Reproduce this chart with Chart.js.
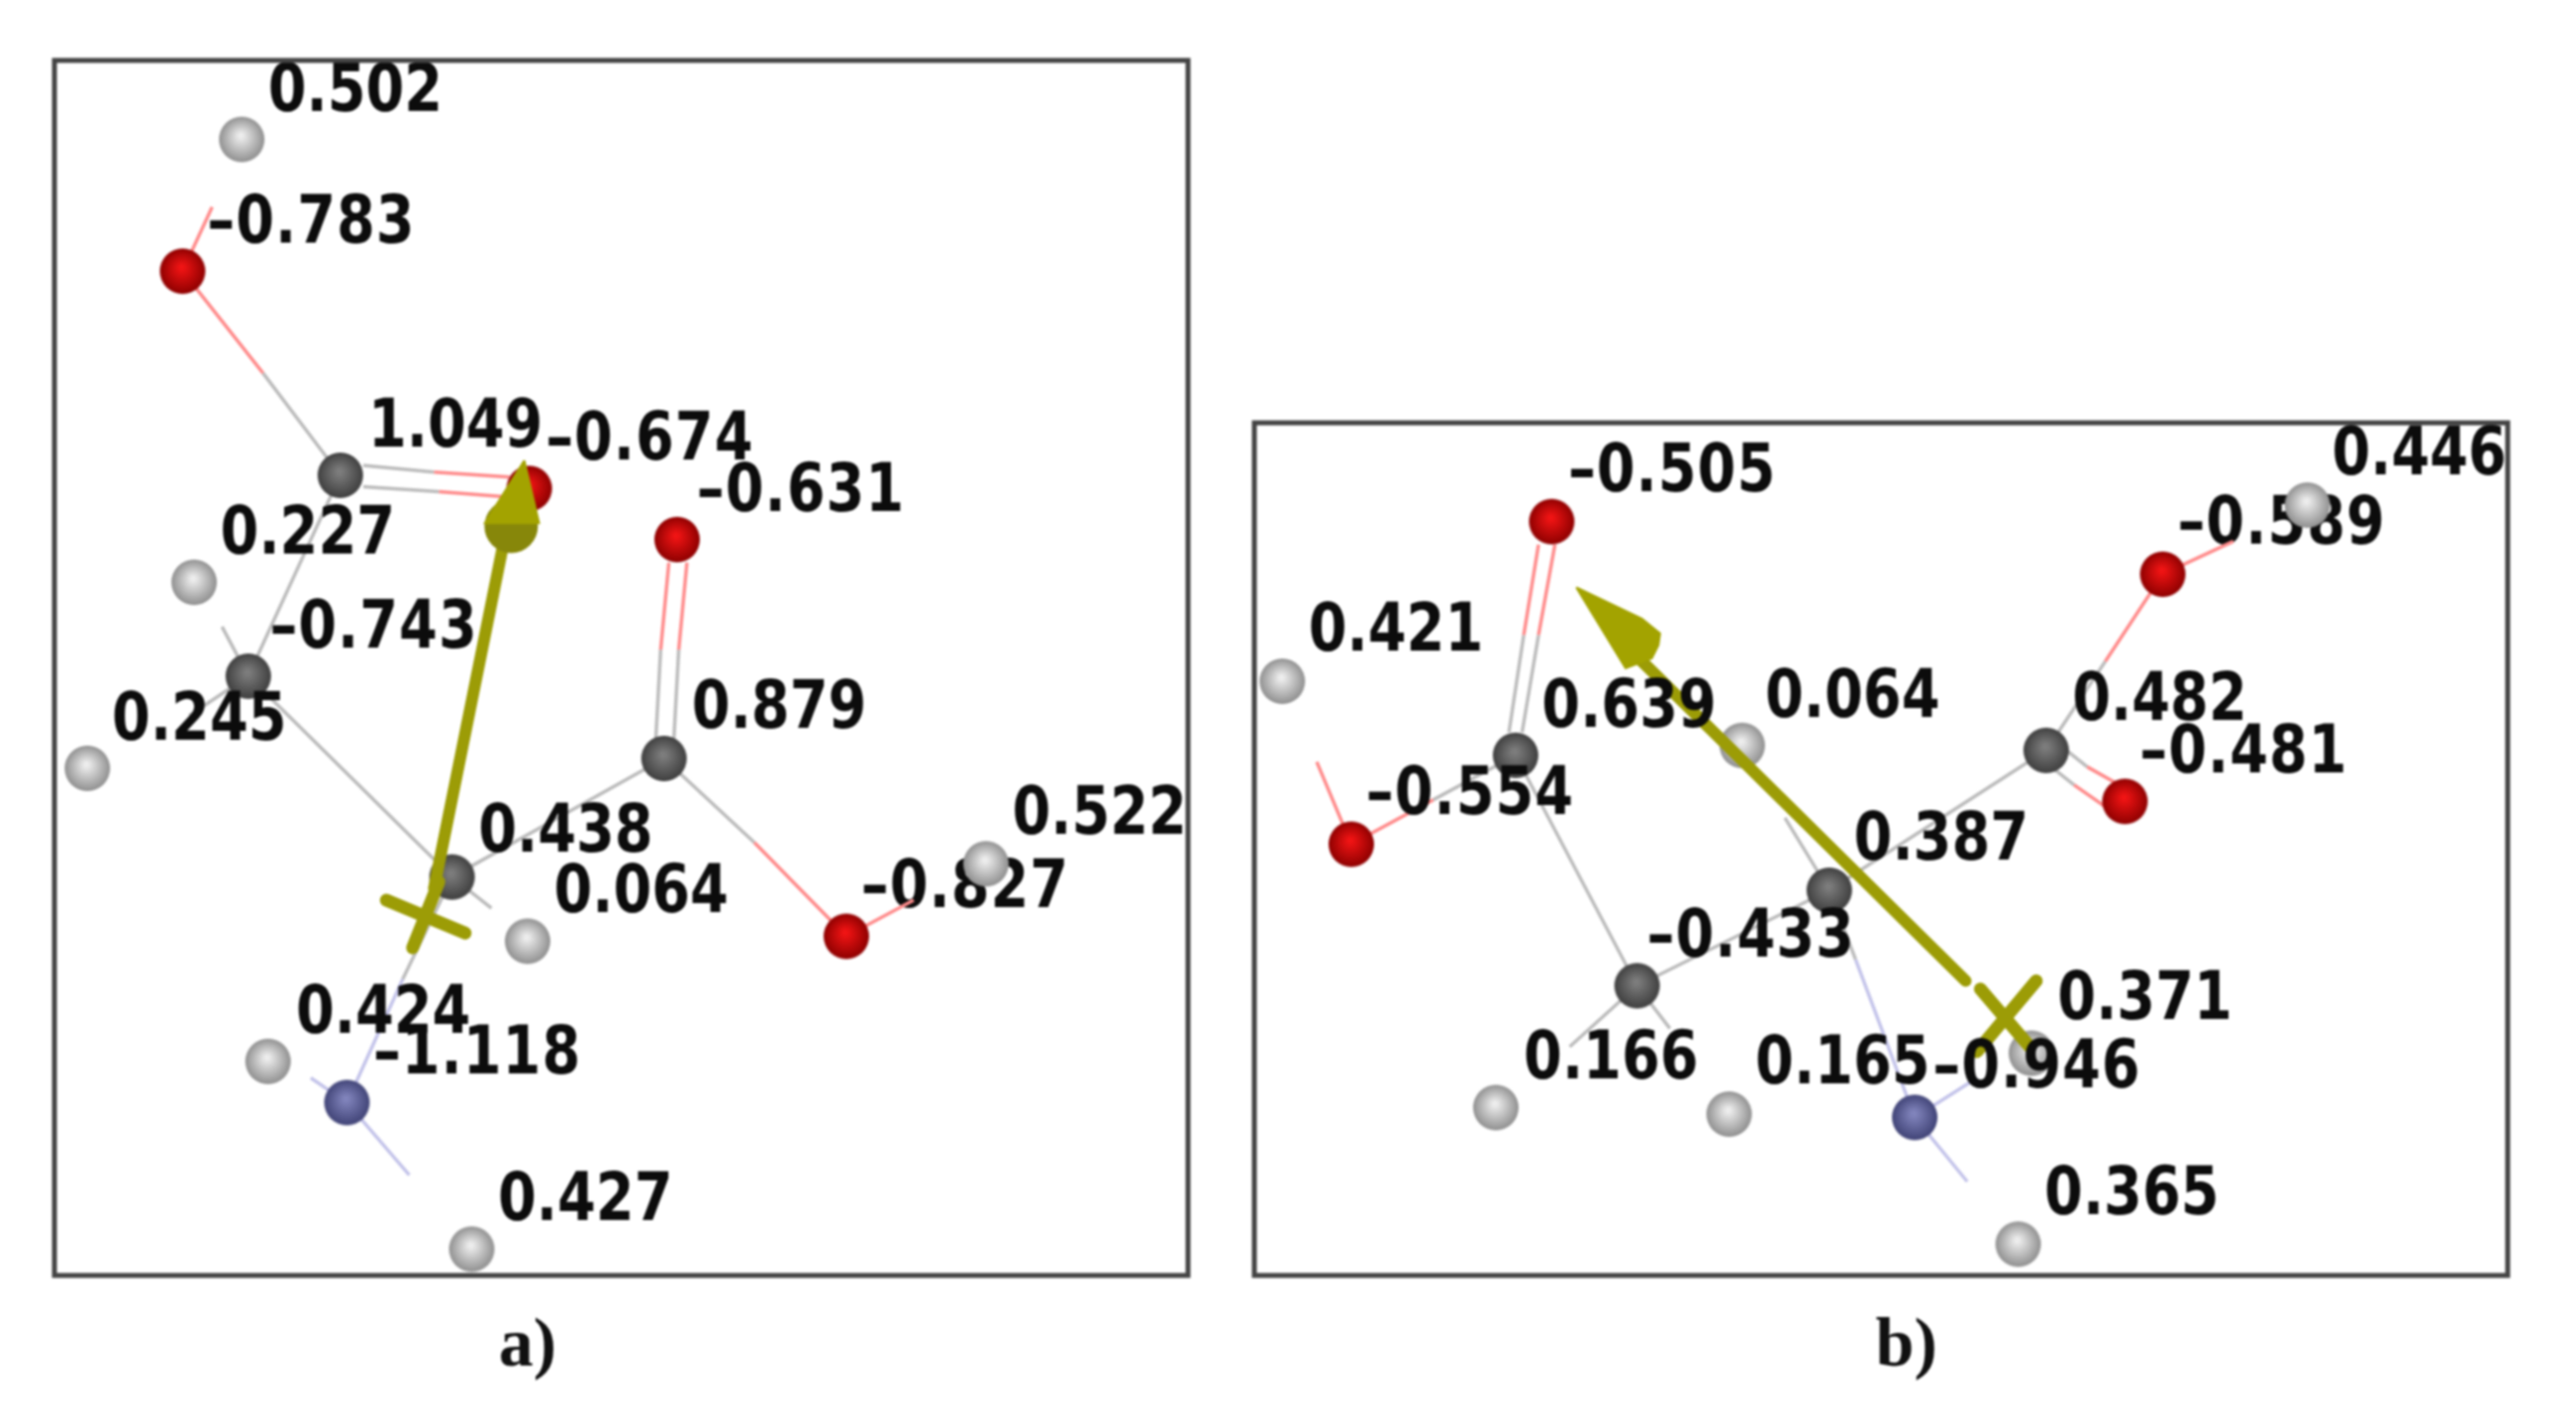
<!DOCTYPE html>
<html>
<head>
<meta charset="utf-8">
<title>Partial charges and dipole moment</title>
<script src="https://cdn.jsdelivr.net/npm/chart.js@4"></script>
<style>
  html, body { margin: 0; padding: 0; background: #fff; width: 2602px; height: 1435px; overflow: hidden; }
  canvas { position: absolute; top: 0; filter: blur(1.3px); }
  #panelA { left: 0; }
  #panelB { left: 1240px; }
</style>
</head>
<body>
<canvas id="panelA" width="1240" height="1435"></canvas>
<canvas id="panelB" width="1362" height="1435"></canvas>
<script>
// panel a) atoms
const aElem = ['H','O','C','O','O','H','C','H','C','C','H','O','H','H','N','H'];
const aX = [147,111,207,322,412,118,151,53,404,275,600,515,321,163,211,287];
const aY = [85,165,289,297,328,354,411,467,461,533,525,569,572,645,670,759];
const aCharge = [0.502,-0.783,1.049,-0.674,-0.631,0.227,-0.743,0.245,0.879,0.438,0.522,-0.827,0.064,0.424,-1.118,0.427];
const aLabelX = [163,126,224,332,424,134,164,68,421,291,616,524,337,180,227,303];
const aLabelY = [57,137,261,269,300,326,383,439,432,507,496,541,544,617,642,731];
const aBehind = [-0.827];  // this label sits under the H atom

// panel a) bonds, [x1,y1,x2,y2]
const aGrayBonds = [[160,227,207,289],[221,283,264,287],[221,296,267,299],[207,289,156,400],[135,381,151,411],[151,411,115,435],[151,411,275,533],[275,533,404,461],[402,395,399,450],[413,395,410,450],[404,461,459,512],[275,533,299,552],[275,533,245,595]];
const aRedBonds = [[111,165,129,126],[111,165,160,227],[264,287,310,290],[267,299,306,302],[407,342,402,395],[418,342,413,395],[459,512,515,569],[515,569,556,547]];
const aBlueBonds = [[245,595,211,670],[211,670,189,655],[211,670,249,714]];

// panel a) dipole arrow
const aShaft = [[264,540,308,322]];
const aCross = [[235,547,283,567],[267,536,251,576]];
const aHead = [[319,280],[328,318],[295,318]];
const aHeadBase = [[311,320]];

// panel b) atoms
const bElem = ['O','H','O','H','C','H','C','O','O','C','C','H','H','H','N','H'];
const bX = [944,1404,1316,780,922,1060,1245,1293,822,1113,996,1236,910,1052,1165,1228];
const bY = [317,307,349,414,459,453,456,487,513,541,599,640,673,677,679,756];
const bCharge = [-0.505,0.446,-0.589,0.421,0.639,0.064,0.482,-0.481,-0.554,0.387,-0.433,0.371,0.166,0.165,-0.946,0.365];
const bLabelX = [954,1419,1325,796,938,1074,1261,1302,831,1128,1002,1252,927,1068,1176,1244];
const bLabelY = [288,278,320,385,431,425,427,459,484,512,571,609,645,648,650,727];
const bBehind = [-0.589];

// panel b) bonds
const bGrayBonds = [[927,386,918,445],[936,386,926,445],[872,486,922,459],[922,459,996,599],[996,599,1113,541],[996,599,955,636],[996,599,1016,625],[1113,541,1245,456],[1086,497,1113,541],[1113,541,1129,583],[1245,456,1281,402],[1250,450,1270,466],[1243,462,1262,477]];
const bRedBonds = [[936,331,927,386],[946,331,936,386],[822,513,801,463],[822,513,872,486],[1281,402,1316,349],[1316,349,1359,329],[1270,466,1295,480],[1262,477,1285,493]];
const bBlueBonds = [[1129,583,1165,679],[1165,679,1203,655],[1165,679,1197,718]];

// panel b) dipole arrow
const bShaft = [[995,398,1196,596]];
const bCross = [[1205,601,1235,636],[1239,596,1203,639]];
const bHead = [[959,357],[999,376],[1010,385],[1009,392],[1005,400],[989,406]];
const bHeadBase = [];

// shaded ball sprites, one per element
function makeSprite(light, dark) {
  const size = 48;
  const c = document.createElement('canvas');
  c.width = size; c.height = size;
  const g = c.getContext('2d');
  const grad = g.createRadialGradient(size*0.48, size*0.42, 2, size/2, size/2, size/2);
  grad.addColorStop(0, light);
  grad.addColorStop(1, dark);
  g.fillStyle = grad;
  g.beginPath();
  g.arc(size/2, size/2, size/2 - 1, 0, Math.PI*2);
  g.fill();
  return c;
}
const sprites = {
  H: makeSprite('#ededed', '#8c8c8c'),
  C: makeSprite('#7d7d7d', '#3d3d3d'),
  O: makeSprite('#f01414', '#8a0000'),
  N: makeSprite('#8184bc', '#3e4174')
};

function segmentPoints(segs) {
  const pts = [];
  segs.forEach(s => {
    pts.push({x: s[0], y: s[1]}, {x: s[2], y: s[3]}, {x: NaN, y: NaN});
  });
  return pts;
}

function chargeText(v) {
  return v.toFixed(3).replace('-', '\u2013');
}

function lineSet(segs, color, width, order) {
  return {
    data: segmentPoints(segs),
    showLine: true, borderColor: color, borderWidth: width,
    pointRadius: 0, clip: false, order: order,
    borderCapStyle: width > 5 ? 'round' : 'butt'
  };
}

function drawPanel(id, p) {
  const labelsPlugin = {
    id: 'chargeLabels',
    beforeDatasetsDraw(chart) { drawLabels(chart, true); },
    afterDatasetsDraw(chart) {
      drawLabels(chart, false);
      const ctx = chart.ctx, a = chart.chartArea;
      ctx.save();
      ctx.strokeStyle = '#444';
      ctx.lineWidth = 5;
      ctx.strokeRect(a.left, a.top, a.right - a.left, a.bottom - a.top);
      ctx.fillStyle = '#111';
      ctx.font = 'bold 70px "Liberation Serif"';
      ctx.textAlign = 'center';
      ctx.textBaseline = 'middle';
      ctx.fillText(p.caption, chart.scales.x.getPixelForValue(p.captionX), chart.scales.y.getPixelForValue(819));
      ctx.restore();
    }
  };
  function drawLabels(chart, behind) {
    const ctx = chart.ctx;
    p.charge.forEach((v, i) => {
      if (p.behind.includes(v) !== behind) return;
      ctx.save();
      ctx.fillStyle = '#0c0c0c';
      ctx.font = 'bold 62px "DejaVu Sans Condensed", "DejaVu Sans"';
      ctx.textAlign = 'left';
      ctx.textBaseline = 'middle';
      if (v < 0) ctx.letterSpacing = '1px';
      ctx.translate(chart.scales.x.getPixelForValue(p.labelX[i]), chart.scales.y.getPixelForValue(p.labelY[i]));
      ctx.scale(1, 1.08);
      ctx.fillText(chargeText(v), 0, 0);
      ctx.restore();
    });
  }

  new Chart(document.getElementById(id), {
    type: 'scatter',
    data: {
      datasets: [
        {
          data: p.head.concat([p.head[0]]).map(h => ({x: h[0], y: h[1]})),
          showLine: true, fill: 'shape', backgroundColor: '#a3a300', borderColor: '#a3a300',
          borderWidth: 2, pointRadius: 0, clip: false, order: 1
        },
        {
          data: p.headBase.map(h => ({x: h[0], y: h[1]})),
          pointRadius: 27, pointBackgroundColor: '#87870a', pointBorderWidth: 0, clip: false, order: 2
        },
        lineSet(p.shaft, '#9c9c06', 12, 3),
        lineSet(p.cross, '#9c9c06', 13, 3),
        {
          data: p.x.map((v, i) => ({x: v, y: p.y[i]})),
          pointStyle: ctx => sprites[p.elem[ctx.dataIndex]],
          clip: false, order: 4
        },
        lineSet(p.gray, '#bcbcbc', 3.5, 5),
        lineSet(p.red, '#ff8c8c', 3.5, 5),
        lineSet(p.blue, '#c4c4ea', 3.5, 5)
      ]
    },
    options: {
      responsive: false,
      devicePixelRatio: 1,
      animation: false,
      layout: { padding: p.padding },
      plugins: { legend: { display: false }, tooltip: { enabled: false } },
      scales: {
        x: { type: 'linear', display: false, min: p.xMin, max: p.xMax },
        y: { type: 'linear', display: false, min: p.yMin, max: p.yMax, reverse: true }
      }
    },
    plugins: [labelsPlugin]
  });
}

drawPanel('panelA', {
  elem: aElem, x: aX, y: aY, charge: aCharge, labelX: aLabelX, labelY: aLabelY, behind: aBehind,
  gray: aGrayBonds, red: aRedBonds, blue: aBlueBonds,
  shaft: aShaft, cross: aCross, head: aHead, headBase: aHeadBase,
  caption: 'a)', captionX: 321,
  xMin: 33, xMax: 723, yMin: 37, yMax: 775,
  padding: { left: 55, right: 40, top: 61, bottom: 147 }
});

drawPanel('panelB', {
  elem: bElem, x: bX, y: bY, charge: bCharge, labelX: bLabelX, labelY: bLabelY, behind: bBehind,
  gray: bGrayBonds, red: bRedBonds, blue: bBlueBonds,
  shaft: bShaft, cross: bCross, head: bHead, headBase: bHeadBase,
  caption: 'b)', captionX: 1160,
  xMin: 763, xMax: 1526, yMin: 257, yMax: 775,
  padding: { left: 27, right: 69, top: 427, bottom: 147 }
});
</script>
</body>
</html>
